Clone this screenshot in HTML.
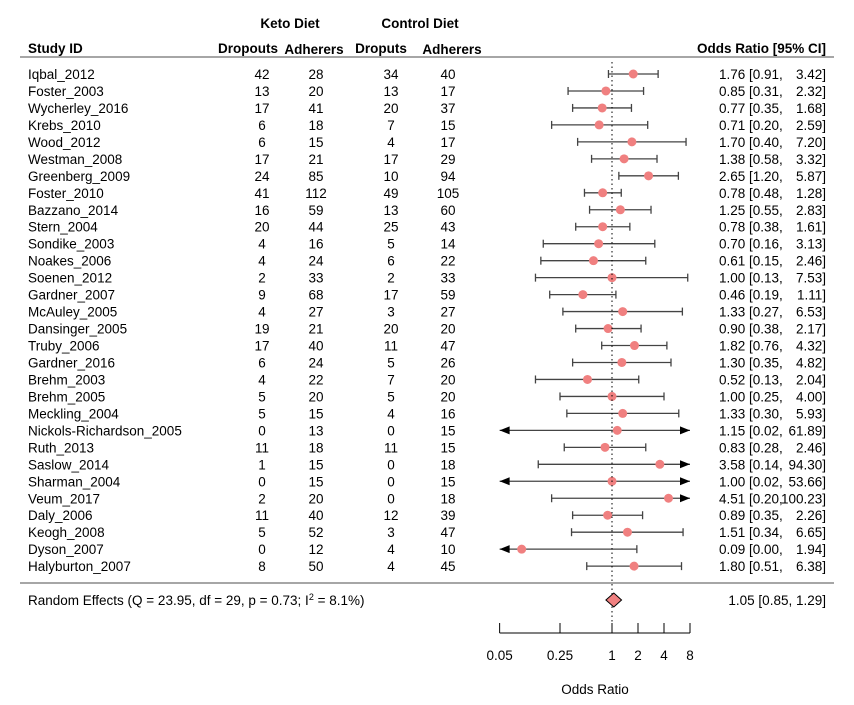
<!DOCTYPE html>
<html><head><meta charset="utf-8"><style>
body{margin:0;background:#fff}
svg text{font-family:"Liberation Sans",Arial,sans-serif;font-size:13.5px;fill:#000}
.b{font-weight:bold}
</style></head><body>
<svg id="c" width="854" height="700" xmlns="http://www.w3.org/2000/svg">
<text x="290" y="28" text-anchor="middle" class="b">Keto Diet</text>
<text x="420" y="28" text-anchor="middle" class="b">Control Diet</text>
<text x="28" y="53" class="b">Study ID</text>
<text x="248" y="53" text-anchor="middle" class="b">Dropouts</text>
<text x="314" y="54" text-anchor="middle" class="b">Adherers</text>
<text x="381" y="53" text-anchor="middle" class="b">Droputs</text>
<text x="452" y="54" text-anchor="middle" class="b">Adherers</text>
<text x="826" y="53" text-anchor="end" class="b">Odds Ratio [95% CI]</text>
<line x1="20" y1="57" x2="834" y2="57" stroke="#888" stroke-width="1.5"/>
<line x1="20" y1="583" x2="834" y2="583" stroke="#888" stroke-width="1.5"/>
<g id="rows"></g>
<text x="28" y="605">Random Effects (Q = 23.95, df = 29, p = 0.73; I<tspan dy="-5" font-size="9">2</tspan><tspan dy="5"> = 8.1%)</tspan></text>
<text x="826" y="605" text-anchor="end">1.05 [0.85,   1.29]</text>
<text x="595" y="694" text-anchor="middle">Odds Ratio</text>
</svg>
<script>
const studies=["Iqbal_2012","Foster_2003","Wycherley_2016","Krebs_2010","Wood_2012","Westman_2008","Greenberg_2009","Foster_2010","Bazzano_2014","Stern_2004","Sondike_2003","Noakes_2006","Soenen_2012","Gardner_2007","McAuley_2005","Dansinger_2005","Truby_2006","Gardner_2016","Brehm_2003","Brehm_2005","Meckling_2004","Nickols-Richardson_2005","Ruth_2013","Saslow_2014","Sharman_2004","Veum_2017","Daly_2006","Keogh_2008","Dyson_2007","Halyburton_2007"];
const ketoDrop=[42,13,17,6,6,17,24,41,16,20,4,4,2,9,4,19,17,6,4,5,5,0,11,1,0,2,11,5,0,8];
const ketoAdh=[28,20,41,18,15,21,85,112,59,44,16,24,33,68,27,21,40,24,22,20,15,13,18,15,15,20,40,52,12,50];
const ctrlDrop=[34,13,20,7,4,17,10,49,13,25,5,6,2,17,3,20,11,5,7,5,4,0,11,0,0,0,12,3,4,4];
const ctrlAdh=[40,17,37,15,17,29,94,105,60,43,14,22,33,59,27,20,47,26,20,20,16,15,15,18,15,18,39,47,10,45];
const est=[1.76,0.85,0.77,0.71,1.70,1.38,2.65,0.78,1.25,0.78,0.70,0.61,1.00,0.46,1.33,0.90,1.82,1.30,0.52,1.00,1.33,1.15,0.83,3.58,1.00,4.51,0.89,1.51,0.09,1.80];
const lower=[0.91,0.31,0.35,0.20,0.40,0.58,1.20,0.48,0.55,0.38,0.16,0.15,0.13,0.19,0.27,0.38,0.76,0.35,0.13,0.25,0.30,0.02,0.28,0.14,0.02,0.20,0.35,0.34,0.00,0.51];
const upper=[3.42,2.32,1.68,2.59,7.20,3.32,5.87,1.28,2.83,1.61,3.13,2.46,7.53,1.11,6.53,2.17,4.32,4.82,2.04,4.00,5.93,61.89,2.46,94.30,53.66,100.23,2.26,6.65,1.94,6.38];
const summary=[1.05,0.85,1.29];
const ticks=[0.05,0.25,1,2,4,8];
const NS="http://www.w3.org/2000/svg";
const svg=document.getElementById('c'), g=document.getElementById('rows');
const XMIN=0.05,XMAX=8;
const x=v=>612+26*Math.log2(Math.max(v,1e-9));
const y=i=>74+i*16.97;
function mk(t,a,p){const e=document.createElementNS(NS,t);for(const k in a)e.setAttribute(k,a[k]);(p||g).appendChild(e);return e;}
function txt(s,a,p){const e=mk('text',a,p);e.textContent=s;return e;}
const f=v=>v.toFixed(2);
let rl=mk('line',{x1:x(1),y1:62,x2:x(1),y2:633,stroke:'#000','stroke-dasharray':'1.5,3'},svg);


studies.forEach((s,i)=>{
  const yy=y(i);
  const row=mk('g',{});
  
  
  const cols=[[s,28,'start'],[ketoDrop[i],262,'middle'],[ketoAdh[i],316,'middle'],[ctrlDrop[i],391,'middle'],[ctrlAdh[i],448,'middle']];
  cols.forEach((c,j)=>{const t=txt(String(c[0]),{x:c[1],y:yy+5,'text-anchor':c[2]},row);
    
    });
  const lo=lower[i],hi=upper[i];
  const x1=x(Math.max(lo,XMIN)),x2=x(Math.min(hi,XMAX));
  const ci=mk('line',{x1:x1,y1:yy,x2:x2,y2:yy,stroke:'#444','stroke-width':1.3},row);
  
  
  if(lo<XMIN){const a=mk('polygon',{points:`${x1},${yy} ${x1+10},${yy-4} ${x1+10},${yy+4}`,fill:'#000'},row);}
  else mk('line',{x1:x1,y1:yy-4,x2:x1,y2:yy+4,stroke:'#444','stroke-width':1.3},row);
  if(hi>XMAX){const a=mk('polygon',{points:`${x2},${yy} ${x2-10},${yy-4} ${x2-10},${yy+4}`,fill:'#000'},row);}
  else mk('line',{x1:x2,y1:yy-4,x2:x2,y2:yy+4,stroke:'#444','stroke-width':1.3},row);
  const pt=mk('circle',{cx:x(est[i]),cy:yy,r:4.5,fill:'#F08080'},row);
  
  
  const t1=txt(f(est[i])+' ['+f(lo)+',',{x:719,y:yy+5},row);
  
  
  const t2=txt(f(hi)+']',{x:826,y:yy+5,'text-anchor':'end'},row);
  
  
});
const dy=600;
const dm=mk('polygon',{points:`${x(summary[1])},${dy} ${x(summary[0])},${dy-7} ${x(summary[2])},${dy} ${x(summary[0])},${dy+7}`,fill:'#F08080',stroke:'#000','stroke-width':1},svg);


const ax=mk('g',{},svg);


mk('line',{x1:x(ticks[0]),y1:633,x2:x(ticks[ticks.length-1]),y2:633,stroke:'#000'},ax);
ticks.forEach(t=>{mk('line',{x1:x(t),y1:623,x2:x(t),y2:633,stroke:'#000'},ax);
  const l=txt(String(t),{x:x(t),y:660,'text-anchor':'middle'},ax);
  
  });
</script>
</body></html>
